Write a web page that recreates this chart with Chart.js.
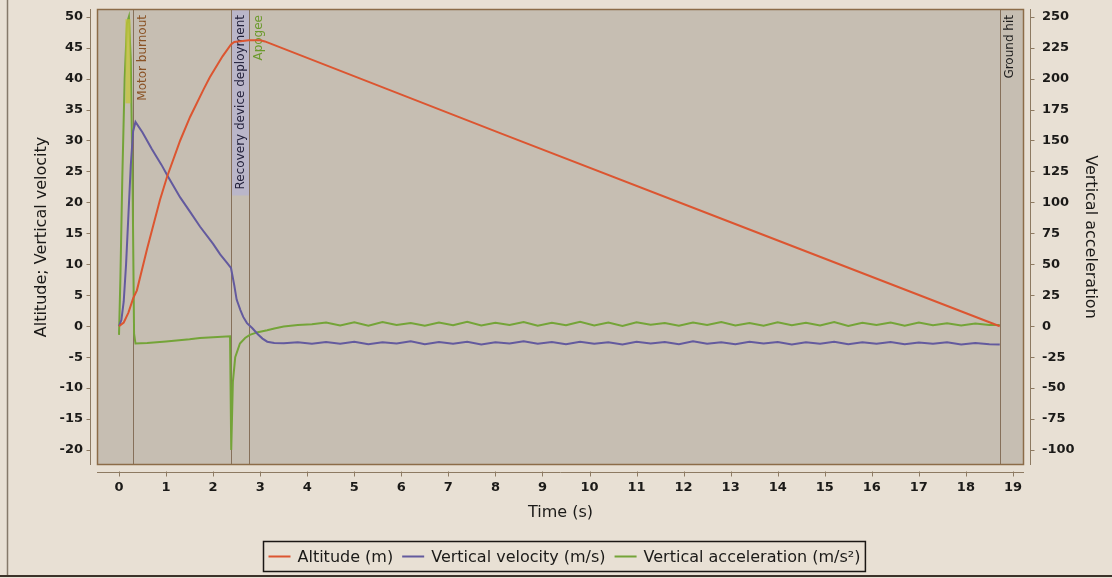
<!DOCTYPE html>
<html>
<head>
<meta charset="utf-8">
<title>Flight simulation</title>
<script src="https://cdn.jsdelivr.net/npm/chart.js@4.4.1/dist/chart.umd.min.js"></script>
<style>
  html, body { margin: 0; padding: 0; background: #e7dfd3; }
  #wrap { width: 1112px; height: 578px; position: relative; }
  canvas { display: block; }
</style>
</head>
<body>
<div id="wrap"><canvas id="flight" width="1112" height="578"></canvas></div>
<script>
// ---- Simulation output (time in s) ----
const altitudeTime = [0, 0.1, 0.2, 0.3, 0.38, 0.6, 0.87, 1.02, 1.3, 1.51, 1.8, 1.93, 2.2, 2.38, 2.45, 2.76, 3.0, 3.1, 8.1, 13.0, 18.72];
const altitudeValues = [0, 0.6, 2.2, 4.5, 5.8, 12.6, 20.4, 24.1, 30.0, 33.8, 38.3, 40.2, 43.6, 45.5, 45.9, 46.2, 46.2, 46.0, 31.2, 16.8, 0];

const descentTime = [4.4, 4.7, 5.0, 5.3, 5.6, 5.9, 6.2, 6.5, 6.8, 7.1, 7.4, 7.7, 8.0, 8.3, 8.6, 8.9,
  9.2, 9.5, 9.8, 10.1, 10.4, 10.7, 11.0, 11.3, 11.6, 11.9, 12.2, 12.5, 12.8, 13.1, 13.4, 13.7,
  14.0, 14.3, 14.6, 14.9, 15.2, 15.5, 15.8, 16.1, 16.4, 16.7, 17.0, 17.3, 17.6, 17.9, 18.2, 18.5];

const ascentVelocityTime = [0, 0.05, 0.1, 0.15, 0.2, 0.25, 0.3, 0.35, 0.5, 0.7, 0.9, 1.04, 1.3, 1.5, 1.72, 2.0, 2.15, 2.3, 2.38,
  2.45, 2.5, 2.58, 2.64, 2.72, 2.83, 2.95, 3.05, 3.15, 3.3, 3.5, 3.8, 4.1];
const ascentVelocity = [0, 1.0, 4.0, 10.0, 18.0, 26.0, 31.5, 33.0, 31.3, 28.6, 26.1, 24.2, 20.8, 18.6, 16.1, 13.3, 11.6, 10.2, 9.4,
  6.6, 4.3, 2.6, 1.5, 0.5, -0.3, -1.3, -2.0, -2.5, -2.7, -2.75, -2.6, -2.85];
const descentVelocity = [-2.55, -2.85, -2.5, -2.9, -2.6, -2.8, -2.45, -2.9,
  -2.55, -2.85, -2.5, -2.95, -2.6, -2.8, -2.45, -2.85,
  -2.55, -2.9, -2.5, -2.85, -2.6, -2.95, -2.5, -2.8,
  -2.55, -2.9, -2.45, -2.85, -2.6, -2.9, -2.5, -2.8,
  -2.55, -2.95, -2.6, -2.85, -2.5, -2.9, -2.6, -2.85,
  -2.55, -2.9, -2.65, -2.85, -2.6, -2.95, -2.7, -2.9];
const landingVelocity = -2.95;

const ascentAccelTime = [0, 0.03, 0.07, 0.12, 0.17, 0.21, 0.25, 0.29, 0.32, 0.35, 0.6, 1.0, 1.5, 1.72, 2.0, 2.36, 2.385,
  2.42, 2.47, 2.57, 2.68, 2.78, 2.95, 3.15, 3.3, 3.5, 3.8, 4.1];
const ascentAccel = [-7, 40, 120, 200, 245, 250, 215, 110, -6, -14, -13.6, -12.4, -10.6, -9.6, -9.0, -8.2, -100,
  -45, -25, -14, -9.5, -7, -4.8, -3.2, -1.8, -0.2, 0.9, 1.6];
const descentAccel = [2.9, 0.6, 3.1, 0.4, 3.4, 0.9, 2.6, 0.3,
  3.0, 0.7, 3.6, 0.5, 2.8, 1.0, 3.3, 0.3,
  2.7, 0.8, 3.5, 0.6, 2.9, 0.2, 3.2, 1.1,
  2.5, 0.4, 3.0, 0.9, 3.4, 0.5, 2.6, 0.3,
  3.1, 0.8, 2.8, 0.6, 3.3, 0.2, 2.7, 1.0,
  3.0, 0.4, 2.9, 0.7, 2.4, 0.5, 2.2, 0.9];
const landingAccel = 1.0;
const landingTime = 18.72;

// ---- Flight events ----
const eventNames = ['Motor burnout', 'Recovery device deployment', 'Apogee', 'Ground hit'];
const eventTimes = [0.30, 2.38, 2.76, 18.72];
const eventTextColors = ['#8a5326', '#24223c', '#6b9a2c', '#1c1c1c'];
const eventLabelBackgrounds = [null, '#bab6c9', null, null];

// Launch-rod clearance glow (time, and span on the altitude/velocity axis)
const launchGlowTime = 0.19;
const launchGlowSpan = [36, 49.6];

// ---- Axis ticks ----
const timeTicks = [0, 1, 2, 3, 4, 5, 6, 7, 8, 9, 10, 11, 12, 13, 14, 15, 16, 17, 18, 19];
const leftTicks = [-20, -15, -10, -5, 0, 5, 10, 15, 20, 25, 30, 35, 40, 45, 50];
const rightTicks = [-100, -75, -50, -25, 0, 25, 50, 75, 100, 125, 150, 175, 200, 225, 250];

// ---- Series labels ----
const seriesLabels = ['Altitude (m)', 'Vertical velocity (m/s)', 'Vertical acceleration (m/s\u00b2)'];

// ---- Styling ----
const PAGE_BG = '#e8e0d4';
const PLOT_BG = '#c6beb2';
const TEXT = '#1b1a18';
const FAMILY = '"DejaVu Sans", "Liberation Sans", sans-serif';
const ALT_COLOR = '#dc5530';
const VEL_COLOR = '#635a9e';
const ACC_COLOR = '#74a438';
const EVENT_LINE = '#86705a';
const AXIS_LINE = '#8d7a62';

function points(ts, vs) { return ts.map((t, i) => ({ x: t, y: vs[i] })); }

const velocityPoints = points(
  [...ascentVelocityTime, ...descentTime, landingTime],
  [...ascentVelocity, ...descentVelocity, landingVelocity]);
const accelPoints = points(
  [...ascentAccelTime, ...descentTime, landingTime],
  [...ascentAccel, ...descentAccel, landingAccel]);
const altitudePoints = points(altitudeTime, altitudeValues);

function pinBox(size) {
  return function (scale) {
    if (scale.isHorizontal()) scale.height = size; else scale.width = size;
    scale.paddingTop = 0; scale.paddingBottom = 0;
    scale.paddingLeft = 0; scale.paddingRight = 0;
  };
}
function fixedTicks(list) {
  return function (scale) { scale.ticks = list.map(v => ({ value: v })); };
}

const backdrop = {
  id: 'backdrop',
  beforeDraw(chart) {
    const { ctx, chartArea: a, width } = chart;
    ctx.save();
    ctx.fillStyle = PAGE_BG;
    ctx.fillRect(0, 0, chart.width, chart.height);
    ctx.fillStyle = PLOT_BG;
    ctx.fillRect(a.left, a.top, a.right - a.left, a.bottom - a.top);
    // panel frame
    ctx.strokeStyle = '#85796a';
    ctx.lineWidth = 1.5;
    ctx.beginPath(); ctx.moveTo(7.5, 0); ctx.lineTo(7.5, 575); ctx.stroke();
    ctx.strokeStyle = '#3b3229';
    ctx.lineWidth = 2;
    ctx.beginPath(); ctx.moveTo(0, 576); ctx.lineTo(width, 576); ctx.stroke();
    ctx.restore();
  }
};

const flightEvents = {
  id: 'flightEvents',
  beforeDatasetsDraw(chart) {
    const { ctx, chartArea: a, scales: { x } } = chart;
    ctx.save();
    ctx.font = '12px ' + FAMILY;
    eventTimes.forEach((t, i) => {
      const px = Math.round(x.getPixelForValue(t)) + 0.5;
      const w = ctx.measureText(eventNames[i]).width;
      if (eventLabelBackgrounds[i]) {
        ctx.fillStyle = eventLabelBackgrounds[i];
        ctx.fillRect(px, a.top, 18, w + 12);
      }
      ctx.strokeStyle = EVENT_LINE;
      ctx.lineWidth = 1;
      ctx.beginPath(); ctx.moveTo(px, a.top); ctx.lineTo(px, a.bottom); ctx.stroke();
      ctx.save();
      ctx.translate(px + 9, a.top + 6);
      ctx.rotate(-Math.PI / 2);
      ctx.textAlign = 'right';
      ctx.textBaseline = 'middle';
      ctx.fillStyle = eventTextColors[i];
      ctx.fillText(eventNames[i], 0, 0);
      ctx.restore();
    });
    ctx.restore();
  },
  afterDatasetsDraw(chart) {
    const { ctx, scales: { x, y } } = chart;
    const px = x.getPixelForValue(launchGlowTime);
    ctx.save();
    ctx.strokeStyle = 'rgba(196, 196, 58, 0.75)';
    ctx.lineWidth = 5;
    ctx.beginPath();
    ctx.moveTo(px, y.getPixelForValue(launchGlowSpan[0]));
    ctx.lineTo(px, y.getPixelForValue(launchGlowSpan[1]));
    ctx.stroke();
    ctx.restore();
  }
};

const axisFrame = {
  id: 'axisFrame',
  afterDraw(chart) {
    const { ctx, chartArea: a, scales: { x, y, y2 } } = chart;
    ctx.save();
    // plot outline
    ctx.strokeStyle = '#8c6c48';
    ctx.lineWidth = 1.5;
    ctx.strokeRect(a.left + 0.5, a.top + 0.5, a.right - a.left - 1, a.bottom - a.top - 1);
    // detached axis lines with outward ticks
    const lx = a.left - 6.5, rx = a.right + 6.5, by = a.bottom + 7.5;
    ctx.strokeStyle = AXIS_LINE;
    ctx.lineWidth = 1;
    ctx.beginPath();
    ctx.moveTo(lx, a.top); ctx.lineTo(lx, a.bottom);
    ctx.moveTo(rx, a.top); ctx.lineTo(rx, a.bottom);
    ctx.moveTo(a.left, by); ctx.lineTo(a.right, by);
    leftTicks.forEach(v => { const py = Math.round(y.getPixelForValue(v)) + 0.5; ctx.moveTo(lx - 4, py); ctx.lineTo(lx, py); });
    rightTicks.forEach(v => { const py = Math.round(y2.getPixelForValue(v)) + 0.5; ctx.moveTo(rx, py); ctx.lineTo(rx + 4, py); });
    timeTicks.forEach(v => { const px = Math.round(x.getPixelForValue(v)) + 0.5; ctx.moveTo(px, by - 1); ctx.lineTo(px, by + 4); });
    ctx.stroke();
    ctx.restore();
  }
};

const legendBox = {
  id: 'legendBox',
  afterDraw(chart) {
    const { ctx, chartArea: a } = chart;
    const ds = chart.data.datasets;
    ctx.save();
    ctx.font = '16px ' + FAMILY;
    const swatch = 22, textGap = 7, itemGap = 9, padL = 5, padR = 5;
    const widths = ds.map(d => ctx.measureText(d.label).width);
    const total = padL + padR + widths.reduce((s, w) => s + swatch + textGap + w, 0) + itemGap * (ds.length - 1);
    const left = Math.round((a.left + a.right) / 2 + 3 - total / 2) + 0.5;
    const top = 541.5, h = 30, cy = top + h / 2;
    ctx.fillStyle = PAGE_BG;
    ctx.fillRect(left, top, total, h);
    ctx.strokeStyle = '#1a1714';
    ctx.lineWidth = 1.5;
    ctx.strokeRect(left, top, total, h);
    let cx = left + padL;
    ds.forEach((d, i) => {
      ctx.strokeStyle = d.borderColor;
      ctx.lineWidth = 2;
      ctx.beginPath(); ctx.moveTo(cx, cy); ctx.lineTo(cx + swatch, cy); ctx.stroke();
      cx += swatch + textGap;
      ctx.fillStyle = TEXT;
      ctx.textAlign = 'left';
      ctx.textBaseline = 'middle';
      ctx.fillText(d.label, cx, cy + 1);
      cx += widths[i] + itemGap;
    });
    ctx.restore();
  }
};

const tickFont = { family: FAMILY, size: 13, weight: 'bold' };
const titleFont = { family: FAMILY, size: 16 };

new Chart(document.getElementById('flight'), {
  type: 'line',
  data: {
    datasets: [
      { label: seriesLabels[0], data: altitudePoints, yAxisID: 'y', borderColor: ALT_COLOR, borderWidth: 2, pointRadius: 0, tension: 0 },
      { label: seriesLabels[1], data: velocityPoints, yAxisID: 'y', borderColor: VEL_COLOR, borderWidth: 2, pointRadius: 0, tension: 0 },
      { label: seriesLabels[2], data: accelPoints, yAxisID: 'y2', borderColor: ACC_COLOR, borderWidth: 2, pointRadius: 0, tension: 0 }
    ]
  },
  options: {
    responsive: false,
    animation: false,
    devicePixelRatio: 1,
    parsing: false,
    layout: { padding: { top: 9, left: 0, right: 0, bottom: 0 } },
    plugins: { legend: { display: false }, tooltip: { enabled: false } },
    scales: {
      x: {
        type: 'linear', position: 'bottom', min: -0.468, max: 19.235,
        afterBuildTicks: fixedTicks(timeTicks),
        afterFit: pinBox(113),
        grid: { display: false, drawTicks: false },
        border: { display: false },
        ticks: { font: tickFont, color: TEXT, padding: 15, maxRotation: 0, autoSkip: false },
        title: { display: true, text: 'Time (s)', font: titleFont, color: TEXT, padding: { top: 0, bottom: 56 } }
      },
      y: {
        type: 'linear', position: 'left', min: -22.42, max: 51.24,
        afterBuildTicks: fixedTicks(leftTicks),
        afterFit: pinBox(97),
        grid: { display: false, drawTicks: false },
        border: { display: false },
        ticks: { font: tickFont, color: TEXT, padding: 14 },
        title: { display: true, text: 'Altitude; Vertical velocity', font: titleFont, color: TEXT, padding: { top: 32, bottom: 0 } }
      },
      y2: {
        type: 'linear', position: 'right', min: -112.1, max: 256.2,
        afterBuildTicks: fixedTicks(rightTicks),
        afterFit: pinBox(88),
        grid: { display: false, drawTicks: false },
        border: { display: false },
        ticks: { font: tickFont, color: TEXT, padding: 18 },
        title: { display: true, text: 'Vertical acceleration', font: titleFont, color: TEXT, padding: { top: 12, bottom: 0 } }
      }
    }
  },
  plugins: [backdrop, flightEvents, axisFrame, legendBox]
});
</script>
</body>
</html>
